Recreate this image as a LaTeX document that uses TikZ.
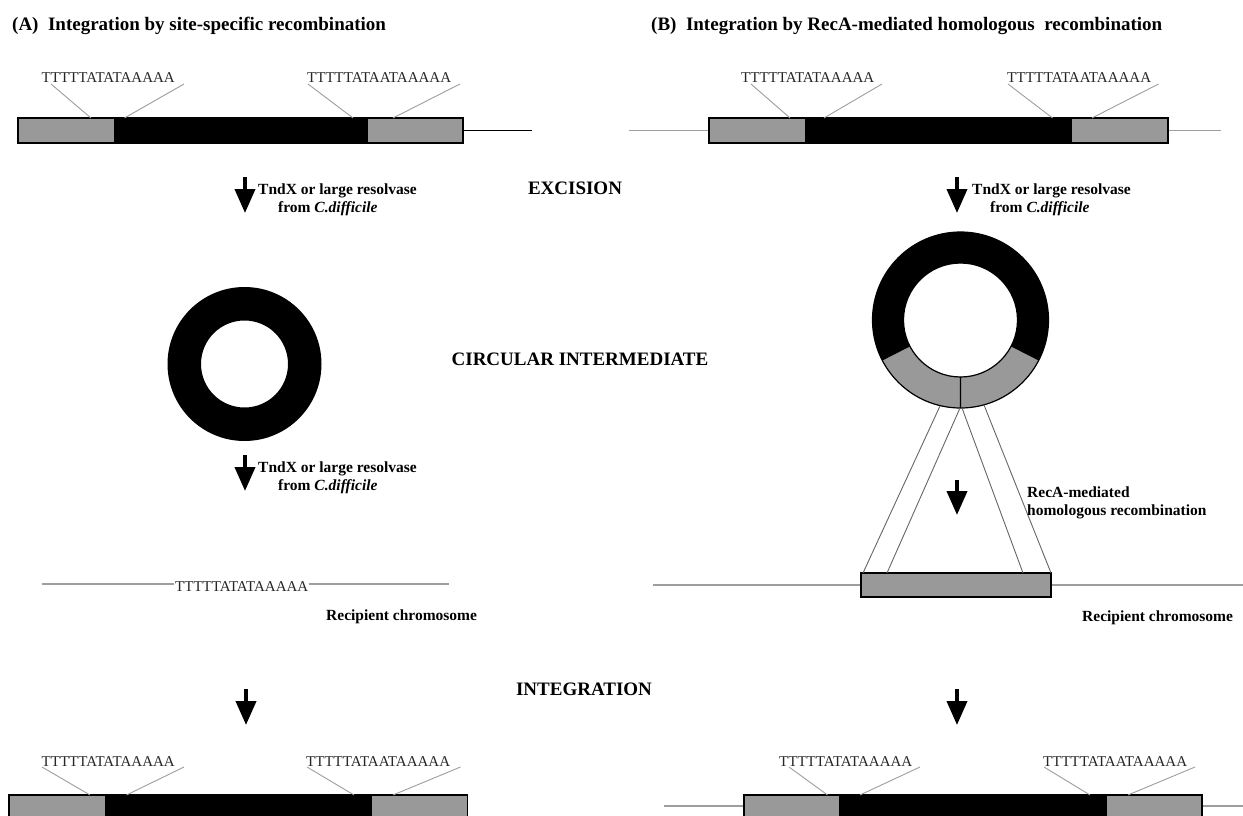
\documentclass[tikz,border=0pt]{standalone}
\usepackage{fontspec}
\setmainfont{Liberation Serif}
\usetikzlibrary{arrows.meta,calc}
\definecolor{boxgray}{gray}{0.6}
\definecolor{linegray}{gray}{0.62}
\begin{document}
\begin{tikzpicture}[x=1pt,y=-1pt,
  seq/.style={inner sep=0pt, anchor=base west, font=\fontsize{15}{18}\selectfont, text=black!85},
  paneltitle/.style={inner sep=0pt, anchor=base west, font=\fontsize{19}{22}\selectfont\bfseries},
  stage/.style={inner sep=0pt, anchor=base, font=\fontsize{19}{22}\selectfont\bfseries},
  note/.style={inner sep=0pt, anchor=base west, font=\fontsize{15.5}{18}\selectfont\bfseries},
  tick/.style={draw=linegray, line width=0.9pt},
  dna/.style={draw=linegray, line width=1.2pt},
  bigarrow/.style={line width=4pt, -{Triangle[length=24pt,width=20pt]}},
  outline/.style={draw=black, line width=1.6pt},
]
\useasboundingbox[fill=white] (0,0) rectangle (1243,816);

% ---------- titles ----------
\node[paneltitle] (tA) at (12,30.5) {(A)\ \ Integration by site-specific recombination};
\node[paneltitle] (tB) at (651,30.5) {(B)\ \ Integration by RecA-mediated homologous\ \ recombination};

% ---------- top A element ----------
\fill[boxgray] (18,118) rectangle (114,143);
\fill[black] (114,118) rectangle (368,143);
\fill[boxgray] (368,118) rectangle (463,143);
\draw[outline] (18,118) rectangle (463,143);
\coordinate (aTend) at (463,130.5);
\coordinate (aTtail) at (532,130.5);
\draw[line width=1.3pt] (aTend) -- (aTtail);
\node[seq] (sA1) at (41.5,83) {TTTTTATATAAAAA};
\node[seq] (sA2) at (307,83) {TTTTTATAATAAAAA};
\coordinate (pA1a) at (51,84);   \coordinate (qA1a) at (91,118);
\coordinate (pA1b) at (184,84);  \coordinate (qA1b) at (124.5,118);
\coordinate (pA2a) at (308,84);  \coordinate (qA2a) at (353,118);
\coordinate (pA2b) at (460,84);  \coordinate (qA2b) at (393,118);
\draw[tick] (pA1a) -- (qA1a) (pA1b) -- (qA1b) (pA2a) -- (qA2a) (pA2b) -- (qA2b);

% ---------- top B element ----------
\coordinate (bTl) at (629,130.5);
\coordinate (bTr) at (1221,130.5);
\draw[dna] (bTl) -- (bTr);
\fill[boxgray] (709,118) rectangle (804.5,143);
\fill[black] (804.5,118) rectangle (1072,143);
\fill[boxgray] (1072,118) rectangle (1168,143);
\draw[outline] (709,118) rectangle (1168,143);
\node[seq] (sB1) at (741,83) {TTTTTATATAAAAA};
\node[seq] (sB2) at (1007,83) {TTTTTATAATAAAAA};
\coordinate (pB1a) at (751,84);   \coordinate (qB1a) at (790,118);
\coordinate (pB1b) at (882,84);   \coordinate (qB1b) at (824,118);
\coordinate (pB2a) at (1008,84);  \coordinate (qB2a) at (1052.5,118);
\coordinate (pB2b) at (1158.5,84);\coordinate (qB2b) at (1092,118);
\draw[tick] (pB1a) -- (qB1a) (pB1b) -- (qB1b) (pB2a) -- (qB2a) (pB2b) -- (qB2b);

% ---------- excision arrows ----------
\coordinate (arA1s) at (245,177); \coordinate (arA1e) at (245,213);
\draw[bigarrow] (arA1s) -- (arA1e);
\node[note] (nA1a) at (258,194) {TndX or large resolvase};
\node[note] (nA1b) at (278,212) {from \textit{C.difficile}};
\coordinate (arB1s) at (957,177); \coordinate (arB1e) at (957,213);
\draw[bigarrow] (arB1s) -- (arB1e);
\node[note] (nB1a) at (972,194) {TndX or large resolvase};
\node[note] (nB1b) at (990,212) {from \textit{C.difficile}};
\node[stage] (exc) at (575,194) {EXCISION};

% ---------- circle A ----------
\coordinate (cA) at (244.5,364);
\fill[black,even odd rule] (cA) circle[radius=77] (cA) circle[radius=43.5];

% ---------- circle B ----------
\coordinate (cB) at (960.5,320);
\fill[black,even odd rule] (cB) circle[radius=88] (cB) circle[radius=57];
\fill[boxgray] ($(cB)+(27:88)$) arc[start angle=27,end angle=153,radius=88]
   -- ($(cB)+(153:57)$) arc[start angle=153,end angle=27,radius=57] -- cycle;
\draw[line width=1.2pt] (cB) circle[radius=88] (cB) circle[radius=57];
\draw[line width=1.2pt] ($(cB)+(27:57)$) -- ($(cB)+(27:88)$)
   ($(cB)+(153:57)$) -- ($(cB)+(153:88)$)
   ($(cB)+(90:57)$) -- ($(cB)+(90:88)$);

\node[stage] (circ) at (580,365) {CIRCULAR INTERMEDIATE};

% ---------- second step A ----------
\coordinate (arA2s) at (245,455); \coordinate (arA2e) at (245,491);
\draw[bigarrow] (arA2s) -- (arA2e);
\node[note] (nA2a) at (258,472) {TndX or large resolvase};
\node[note] (nA2b) at (278,490) {from \textit{C.difficile}};

\coordinate (chAl) at (41.5,584);
\coordinate (chAr) at (449,584);
\node[seq, fill=white, inner xsep=1pt] (sAc) at (174,591) {TTTTTATATAAAAA};
\draw[dna] (chAl) -- (sAc.west |- chAl);
\draw[dna] (sAc.east |- chAr) -- (chAr);
\node[note] (recA) at (326,620) {Recipient chromosome};

% ---------- second step B ----------
\coordinate (chBl) at (653,585);
\coordinate (chBr) at (1243,585);
\draw[dna] (chBl) -- (chBr);
\fill[boxgray] (861,573) rectangle (1051,597);
\draw[line width=2pt] (861,573) rectangle (1051,597);
\coordinate (cl1) at (940,406); \coordinate (bl1) at (863,573);
\coordinate (cl2) at (960,408); \coordinate (bl2) at (887,573);
\coordinate (cl3) at (962,408); \coordinate (bl3) at (1023,573);
\coordinate (cl4) at (984,405); \coordinate (bl4) at (1051,573);
\draw[draw=black!60, line width=0.9pt] (cl1) -- (bl1) (cl2) -- (bl2) (cl3) -- (bl3) (cl4) -- (bl4);
\coordinate (arB2s) at (957,480); \coordinate (arB2e) at (957,515);
\draw[bigarrow] (arB2s) -- (arB2e);
\node[note] (rm1) at (1027,497) {RecA-mediated};
\node[note] (rm2) at (1027,515) {homologous recombination};
\node[note] (recB) at (1082,621) {Recipient chromosome};

% ---------- integration ----------
\node[stage] (integ) at (584,695) {INTEGRATION};
\coordinate (arA3s) at (246,689); \coordinate (arA3e) at (246,725);
\draw[bigarrow] (arA3s) -- (arA3e);
\coordinate (arB3s) at (957,689); \coordinate (arB3e) at (957,725);
\draw[bigarrow] (arB3s) -- (arB3e);

% bottom A
\fill[boxgray] (8.7,795) rectangle (104.7,822);
\fill[black] (104.7,795) rectangle (371.5,822);
\fill[boxgray] (371.5,795) rectangle (467.6,822);
\draw[outline] (8.7,795) rectangle (467.6,822);
\node[seq] (sA3) at (41.5,766) {TTTTTATATAAAAA};
\node[seq] (sA4) at (306,766) {TTTTTATAATAAAAA};
\coordinate (pA3a) at (42,767);   \coordinate (qA3a) at (90,795);
\coordinate (pA3b) at (184,767);  \coordinate (qA3b) at (126.5,795);
\coordinate (pA4a) at (307,767);  \coordinate (qA4a) at (354,795);
\coordinate (pA4b) at (460.5,767);\coordinate (qA4b) at (393,795);
\draw[tick] (pA3a) -- (qA3a) (pA3b) -- (qA3b) (pA4a) -- (qA4a) (pA4b) -- (qA4b);

% bottom B
\coordinate (bBl) at (664,806);
\coordinate (bBr) at (1243,806);
\draw[dna] (bBl) -- (bBr);
\fill[boxgray] (744,795) rectangle (839,822);
\fill[black] (839,795) rectangle (1107,822);
\fill[boxgray] (1107,795) rectangle (1202,822);
\draw[outline] (744,795) rectangle (1202,822);
\node[seq] (sB3) at (779,766) {TTTTTATATAAAAA};
\node[seq] (sB4) at (1043,766) {TTTTTATAATAAAAA};
\coordinate (pB3a) at (789,767);  \coordinate (qB3a) at (827.5,795);
\coordinate (pB3b) at (920,767);  \coordinate (qB3b) at (860,795);
\coordinate (pB4a) at (1044,767); \coordinate (qB4a) at (1090,795);
\coordinate (pB4b) at (1195,767); \coordinate (qB4b) at (1128,795);
\draw[tick] (pB3a) -- (qB3a) (pB3b) -- (qB3b) (pB4a) -- (qB4a) (pB4b) -- (qB4b);
\end{tikzpicture}
\end{document}
